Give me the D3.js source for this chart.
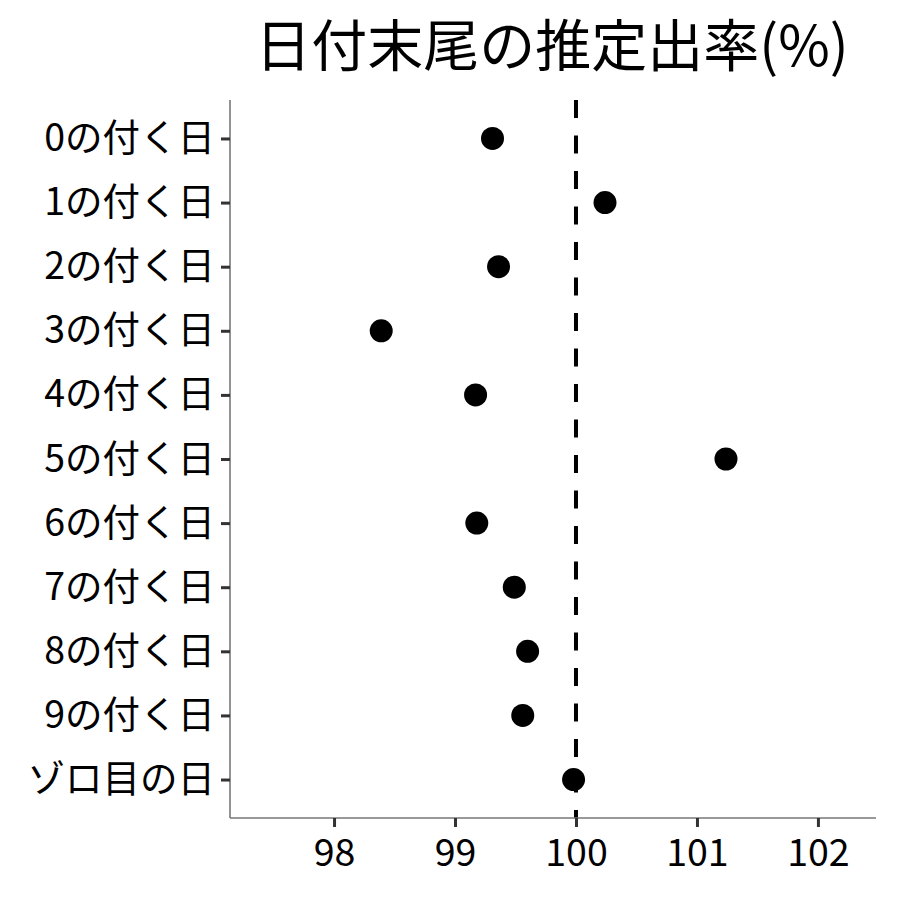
<!DOCTYPE html>
<html><head><meta charset="utf-8">
<script src="https://cdn.jsdelivr.net/npm/d3@7"></script>
<style>body{margin:0;background:#fff}svg{display:block}text{font-family:"Noto Sans CJK JP","Noto Sans",sans-serif}</style>
</head><body><svg id="c" width="900" height="900"></svg>
<script>
const categories = ["0の付く日","1の付く日","2の付く日","3の付く日","4の付く日","5の付く日","6の付く日","7の付く日","8の付く日","9の付く日","ゾロ目の日"];
const values = [99.31, 100.24, 99.36, 98.39, 99.17, 101.24, 99.18, 99.49, 99.60, 99.56, 99.98];
const xTicks = [98, 99, 100, 101, 102];
const refValue = 100;
const title = "日付末尾の推定出率(%)";

const svg = d3.select("#c");
const L = 230, R = 876, T = 100, B = 818;
const x = d3.scaleLinear().domain([97.14, 102.48]).range([L, R]);
const y = d3.scalePoint().domain(categories).range([T, B]).padding(0.6);

// title
svg.append("text").attr("x", (L + R) / 2 - 1).attr("y", 66).attr("text-anchor", "middle")
  .attr("font-size", 56).attr("fill", "#000").text(title);

// reference line
svg.append("line").attr("x1", x(refValue)).attr("x2", x(refValue)).attr("y1", T).attr("y2", B)
  .attr("stroke", "#000").attr("stroke-width", 4).attr("stroke-dasharray", "18,17.5");

// points
svg.append("g").selectAll("circle").data(values).join("circle")
  .attr("cx", d => x(d)).attr("cy", (d, i) => y(categories[i])).attr("r", 11.5).attr("fill", "#000");

// axes
const xa = svg.append("g").attr("transform", `translate(0,${B})`)
  .call(d3.axisBottom(x).tickValues(xTicks).tickFormat(d3.format("d")).tickSize(9).tickPadding(12).tickSizeOuter(0));
const ya = svg.append("g").attr("transform", `translate(${L},0)`)
  .call(d3.axisLeft(y).tickSize(9).tickPadding(6).tickSizeOuter(0));
[xa, ya].forEach(a => {
  a.select(".domain").attr("stroke", "#777").attr("stroke-width", 1.6);
  a.selectAll(".tick line").attr("stroke", "#333").attr("stroke-width", 3);
  a.selectAll(".tick text").attr("fill", "#000").attr("font-size", 37.5)
    .attr("font-family", '"Noto Sans CJK JP","Noto Sans",sans-serif');
});
xa.select(".domain").attr("d", `M${L},0H${R}`);
ya.select(".domain").attr("d", `M0,${T}V${B}`);
</script></body></html>
